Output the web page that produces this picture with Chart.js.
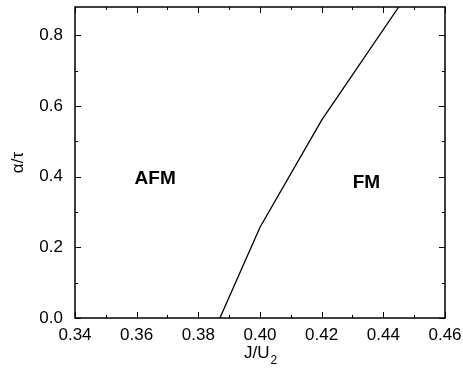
<!DOCTYPE html>
<html lang="en">
<head>
    <meta charset="UTF-8">
    <title>Phase diagram</title>
    <style>
        body {
            margin: 0;
            background-color: #fff;
        }
        #wrap {
            width: 463px;
            height: 371px;
        }
    </style>
</head>
<body>
    <div id="wrap"><canvas id="phaseChart" width="463" height="371"></canvas></div>

    <script src="https://cdn.jsdelivr.net/npm/chart.js"></script>
    <script>
        // Phase boundary
        const jValues = [0.387, 0.400, 0.420, 0.445];
        const alphaValues = [0.0, 0.257, 0.56, 0.88];

        // Region labels (text, J, alpha)
        const regionNames = ["AFM", "FM"];
        const regionJ = [0.366, 0.4345];
        const regionAlpha = [0.395, 0.382];

        const FONT = "'Liberation Sans', Arial, sans-serif";

        const points = jValues.map((j, i) => ({ x: j, y: alphaValues[i] }));

        // Inward ticks on all four sides, box, region labels and axis titles
        const framePlugin = {
            id: "frame",
            afterDraw(chart) {
                const ctx = chart.ctx;
                const a = chart.chartArea;
                const xs = chart.scales.x;
                const ys = chart.scales.y;
                ctx.save();
                ctx.strokeStyle = "#000";
                ctx.lineWidth = 1.5;
                ctx.strokeRect(a.left, a.top, a.right - a.left, a.bottom - a.top);

                ctx.lineWidth = 1;
                ctx.beginPath();
                xs.ticks.forEach(t => {
                    const v = t.value;
                    if (Math.abs(v * 100 - Math.round(v * 100)) > 1e-6) return;
                    const len = Math.round(v * 100) % 2 === 0 ? 6 : 3;
                    const px = Math.round(xs.getPixelForValue(v)) + 0.5;
                    ctx.moveTo(px, a.bottom);
                    ctx.lineTo(px, a.bottom - len);
                    ctx.moveTo(px, a.top);
                    ctx.lineTo(px, a.top + len);
                });
                ys.ticks.forEach(t => {
                    const v = t.value;
                    if (Math.abs(v * 10 - Math.round(v * 10)) > 1e-6) return;
                    const len = Math.round(v * 10) % 2 === 0 ? 6 : 3;
                    const py = Math.round(ys.getPixelForValue(v)) + 0.5;
                    ctx.moveTo(a.left, py);
                    ctx.lineTo(a.left + len, py);
                    ctx.moveTo(a.right, py);
                    ctx.lineTo(a.right - len, py);
                });
                ctx.stroke();

                // region labels
                ctx.fillStyle = "#000";
                ctx.textAlign = "center";
                ctx.textBaseline = "middle";
                regionNames.forEach((name, i) => {
                    ctx.font = "bold 19px " + FONT;
                    ctx.fillText(name, xs.getPixelForValue(regionJ[i]), ys.getPixelForValue(regionAlpha[i]));
                });

                // x title J/U with subscript 2
                ctx.font = "17px " + FONT;
                ctx.textBaseline = "alphabetic";
                ctx.textAlign = "left";
                const main = "J/U";
                const wMain = ctx.measureText(main).width;
                ctx.font = "12px " + FONT;
                const wSub = ctx.measureText("2").width;
                const cx = (a.left + a.right) / 2;
                const x0 = cx - (wMain + wSub) / 2;
                ctx.font = "17px " + FONT;
                ctx.fillText(main, x0, 358);
                ctx.font = "12px " + FONT;
                ctx.fillText("2", x0 + wMain + 1, 364);

                // y title
                ctx.translate(18, (a.top + a.bottom) / 2);
                ctx.rotate(-Math.PI / 2);
                ctx.font = "17px " + FONT;
                ctx.textAlign = "center";
                ctx.textBaseline = "middle";
                ctx.fillText("\u03b1/\u03c4", 0, 0);
                ctx.restore();
            }
        };

        new Chart(document.getElementById("phaseChart"), {
            type: "scatter",
            data: {
                datasets: [{
                    data: points,
                    showLine: true,
                    borderColor: "#000",
                    borderWidth: 1.3,
                    pointRadius: 0,
                    tension: 0,
                    fill: false
                }]
            },
            options: {
                responsive: false,
                animation: false,
                events: [],
                layout: { padding: { left: 0, right: 18, top: 7, bottom: 0 } },
                plugins: {
                    legend: { display: false },
                    tooltip: { enabled: false }
                },
                scales: {
                    x: {
                        type: "linear",
                        min: 0.34,
                        max: 0.46,
                        afterFit(scale) {
                            scale.height = 53;
                            scale.paddingLeft = 0;
                            scale.paddingRight = 0;
                        },
                        grid: { display: false, drawTicks: false },
                        border: { display: false },
                        ticks: {
                            stepSize: 0.01,
                            autoSkip: false,
                            maxRotation: 0,
                            padding: 7,
                            color: "#000",
                            font: { family: FONT, size: 17 },
                            callback: v => Math.round(v * 100) % 2 === 0 ? v.toFixed(2) : ""
                        }
                    },
                    y: {
                        min: 0,
                        max: 0.88,
                        afterFit(scale) {
                            scale.width = 75;
                            scale.paddingTop = 0;
                            scale.paddingBottom = 0;
                        },
                        grid: { display: false, drawTicks: false },
                        border: { display: false },
                        ticks: {
                            stepSize: 0.1,
                            autoSkip: false,
                            padding: 12,
                            color: "#000",
                            font: { family: FONT, size: 17 },
                            callback: v => {
                                if (Math.abs(v * 10 - Math.round(v * 10)) > 1e-6) return "";
                                return Math.round(v * 10) % 2 === 0 ? v.toFixed(1) : "";
                            }
                        }
                    }
                }
            },
            plugins: [framePlugin]
        });
    </script>
</body>
</html>
